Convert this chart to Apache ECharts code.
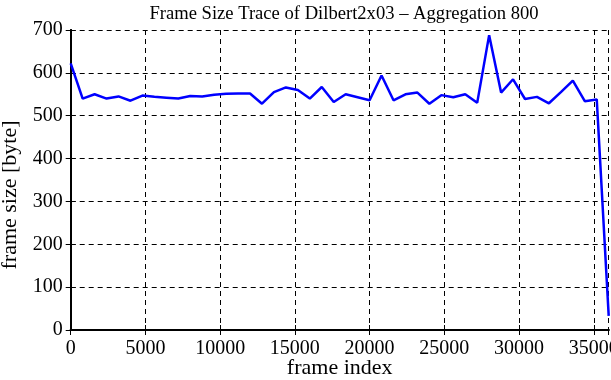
<!DOCTYPE html>
<html>
<head>
<meta charset="utf-8">
<script src="https://cdn.jsdelivr.net/npm/echarts@6/dist/echarts.min.js"></script>
<style>html,body{margin:0;padding:0;background:#fff}#c{width:611px;height:380px}</style>
</head>
<body>
<div id="c"></div>
<script>
var titleText = 'Frame Size Trace of Dilbert2x03 \u2013 Aggregation 800';
var xName = 'frame index';
var yName = 'frame size [byte]';
var aggregation = 800;
var frameSizes = [622, 540, 550, 540, 545, 535, 547, 544, 542, 540,
                  546, 545, 549, 551, 552, 552, 528, 555, 566, 560,
                  540, 567, 532, 550, 543, 536, 594, 536, 550, 554,
                  528, 548, 543, 550, 530, 688, 554, 585, 539, 544,
                  529, 555, 582, 534, 538, 33];
var frameIndex = frameSizes.map(function (v, i) { return i * aggregation; });
var seriesData = frameIndex.map(function (x, i) { return [x, frameSizes[i]]; });

var font = '"Liberation Serif", "Times New Roman", serif';
var chart = echarts.init(document.getElementById('c'), null, {renderer: 'canvas'});
var tickStyle = {show: true, inside: true, length: 5, lineStyle: {color: '#000', width: 1}};
var axisLine = {show: true, lineStyle: {color: '#000', width: 2}};
var gridLine = {show: true, lineStyle: {color: '#000', width: 1, type: [5, 4]}};
function plain(v) { return String(v); }
chart.setOption({
  animation: false,
  backgroundColor: '#fff',
  title: {
    text: titleText, left: 339, top: 0, textAlign: 'center',
    textStyle: {fontFamily: font, fontWeight: 'normal', fontSize: 18.6, color: '#000'}
  },
  grid: {left: 70.7, right: 2.3, top: 30, bottom: 50, containLabel: false, outerBoundsMode: 'none'},
  xAxis: [{
    type: 'value', min: 0, max: 36000, interval: 5000,
    name: xName, nameLocation: 'middle', nameGap: 27, nameMoveOverlap: false,
    nameTextStyle: {fontFamily: font, fontSize: 22, color: '#000'},
    axisLine: axisLine, axisTick: tickStyle, splitLine: gridLine,
    axisLabel: {fontFamily: font, fontSize: 20, color: '#000', margin: 9, showMaxLabel: false, formatter: plain, hideOverlap: false}
  }, {
    type: 'value', min: 0, max: 36000, interval: 5000, position: 'top',
    axisLine: axisLine, axisTick: tickStyle, splitLine: {show: false},
    axisLabel: {show: false}
  }],
  yAxis: [{
    type: 'value', min: 0, max: 700, interval: 100,
    name: yName, nameLocation: 'middle', nameGap: 49, nameMoveOverlap: false,
    nameTextStyle: {fontFamily: font, fontSize: 22, color: '#000', padding: [0, 30, 0, 0]},
    axisLine: axisLine, axisTick: tickStyle, splitLine: gridLine,
    axisLabel: {fontFamily: font, fontSize: 20, color: '#000', margin: 8, formatter: plain}
  }, {
    type: 'value', min: 0, max: 700, interval: 100, position: 'right',
    axisLine: axisLine, axisTick: tickStyle, splitLine: {show: false},
    axisLabel: {show: false}
  }],
  series: [{
    type: 'line', data: seriesData, xAxisIndex: 0, yAxisIndex: 0,
    showSymbol: false, symbol: 'none',
    lineStyle: {color: '#0000ff', width: 2.5}, itemStyle: {color: '#0000ff'}
  }]
});
</script>
</body>
</html>
